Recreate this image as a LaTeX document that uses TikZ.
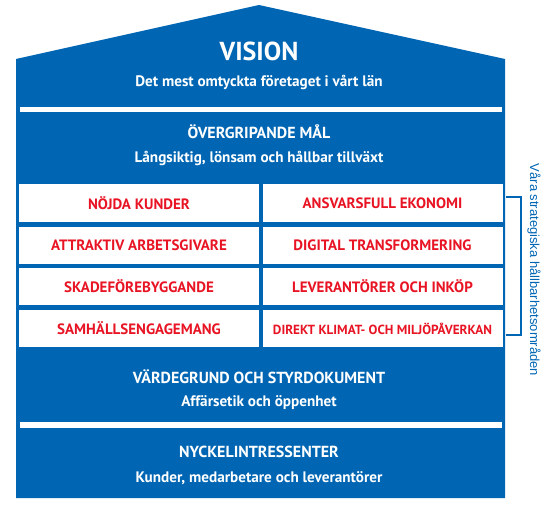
\documentclass[tikz,border=0pt]{standalone}
\usepackage{fontspec}
\setmainfont{PT Sans}
\newfontfamily\bracketfont{Liberation Sans}
\definecolor{houseblue}{RGB}{0,102,179}
\definecolor{goalred}{RGB}{232,20,36}
\begin{document}
\begin{tikzpicture}[x=1pt,y=-1pt,
  housetitle/.style={text=white,font=\bfseries\fontsize{16}{18}\selectfont,inner sep=0pt},
  housesub/.style={text=white,font=\bfseries\fontsize{15.2}{17}\selectfont,inner sep=0pt},
  goalbox/.style={fill=white,draw=none,minimum width=240pt,minimum height=37.5pt,inner sep=0pt,
     text=goalred,font=\bfseries\fontsize{15}{17}\selectfont},
  divider/.style={fill=white,draw=none},
  bracketline/.style={draw=houseblue,line width=2pt}]
\useasboundingbox (0,0) rectangle (555,505);
% house
\fill[houseblue] (16,498) -- (16,59) -- (259,5) -- (505,59) -- (505,498) -- cycle;
% dividers
\fill[divider] (20,107) rectangle (502,112.5);
\fill[divider] (20,422.5) rectangle (502,428);
% vision
\node[text=white,font=\bfseries\fontsize{26}{28}\selectfont,inner sep=0pt] (vision) at (259,51) {VISION};
\node[housesub] (visionsub) at (259,82) {Det mest omtyckta företaget i vårt län};
% goals
\node[housetitle] (mal) at (259,132) {ÖVERGRIPANDE MÅL};
\node[housesub] (malsub) at (259,158) {Långsiktig, lönsam och hållbar tillväxt};
% boxes
\node[goalbox] (g11) at (139,203) {NÖJDA KUNDER};
\node[goalbox] (g12) at (382.5,203) {ANSVARSFULL EKONOMI};
\node[goalbox] (g21) at (139,245.5) {ATTRAKTIV ARBETSGIVARE};
\node[goalbox] (g22) at (382.5,245.5) {DIGITAL TRANSFORMERING};
\node[goalbox] (g31) at (139,286.5) {SKADEFÖREBYGGANDE};
\node[goalbox] (g32) at (382.5,286.5) {LEVERANTÖRER OCH INKÖP};
\node[goalbox] (g41) at (139,328.5) {SAMHÄLLSENGAGEMANG};
\node[goalbox,font=\bfseries\fontsize{13.2}{15}\selectfont] (g42) at (382.5,328.5) {DIREKT KLIMAT- OCH MILJÖPÅVERKAN};
% values
\node[housetitle] (varde) at (259,376.5) {VÄRDEGRUND OCH STYRDOKUMENT};
\node[housesub] (vardesub) at (259,403) {Affärsetik och öppenhet};
% stakeholders
\node[housetitle] (nyckel) at (259,451.5) {NYCKELINTRESSENTER};
\node[housesub] (nyckelsub) at (259,478) {Kunder, medarbetare och leverantörer};
% bracket
\coordinate (btop) at (506,197);
\coordinate (bbot) at (506,335);
\draw[bracketline] (btop) -- (521,197) -- (521,335) -- (bbot);
\node[rotate=-90,text=houseblue,font=\bracketfont\fontsize{13}{15}\selectfont,inner sep=0pt] (omraden) at (534,270) {Våra strategiska hållbarhetsområden};
\end{tikzpicture}
\end{document}
